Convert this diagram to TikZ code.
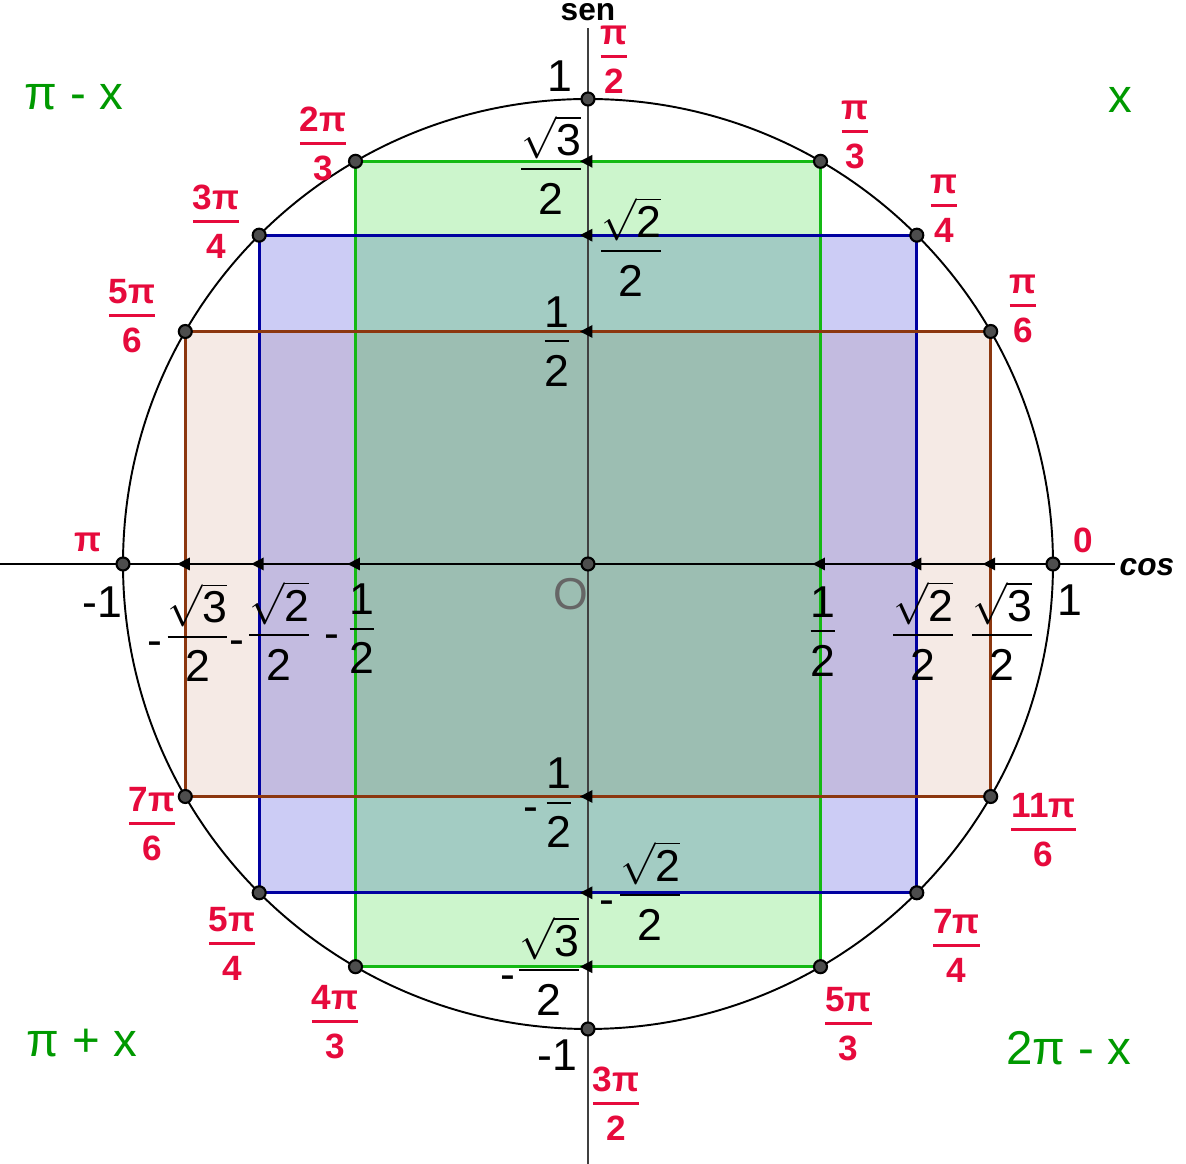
\documentclass[tikz,border=0pt]{standalone}
\usepackage{amsmath}
\usepackage{fontspec}
\setmainfont{Liberation Sans}
\usepackage{tikz}
\definecolor{angred}{RGB}{230,10,60}
\definecolor{quadgreen}{RGB}{0,153,0}
\definecolor{gfill}{RGB}{0,204,0}
\definecolor{gline}{RGB}{20,185,20}
\definecolor{bfill}{RGB}{0,0,204}
\definecolor{bline}{RGB}{0,0,160}
\definecolor{rfill}{RGB}{153,51,0}
\definecolor{rline}{RGB}{140,55,15}
\definecolor{ptgray}{RGB}{77,77,77}
\newcommand\rr{4.65}
\newcommand\sq[1]{$\sqrt{\mbox{#1}}$}
\newcommand\fr[2]{{\renewcommand\arraystretch{0}\setlength\arrayrulewidth{0.55pt}%
  \begin{tabular}[t]{@{}c@{}}#1\\[3.6pt]\hline\rule{0pt}{12.6pt}#2\end{tabular}}}
\newcommand\rfr[2]{{\renewcommand\arraystretch{0}\setlength\arrayrulewidth{0.9pt}%
  \begin{tabular}[t]{@{}c@{}}#1\\[3.1pt]\hline\rule{0pt}{10pt}#2\end{tabular}}}
\tikzset{
  val/.style={inner sep=0pt, font=\fontsize{12.7}{15}\selectfont},
  valfr/.style={val, anchor=base},
  minus/.style={val, anchor=base},
  ang/.style={inner sep=0pt, anchor=base, text=angred, font=\bfseries\fontsize{10}{12}\selectfont},
  quad/.style={inner sep=0pt, anchor=base, text=quadgreen, font=\fontsize{13.5}{16}\selectfont},
  axlabel/.style={inner sep=0pt, font=\bfseries\fontsize{9}{11}\selectfont},
  ptdot/.style={circle, draw=black, fill=ptgray, inner sep=0pt, minimum size=0.13cm, line width=0.6pt},
  lefttip/.pic={\fill (-0.08,0) -- (0.045,0.065) -- (0.045,-0.065) -- cycle;}
}
\begin{document}
\begin{tikzpicture}
\useasboundingbox (-5.88,-6.00) rectangle (5.98,5.64);

% filled rectangles
\fill[rfill, fill opacity=0.1] (30:\rr) rectangle (210:\rr);
\fill[bfill, fill opacity=0.2] (45:\rr) rectangle (225:\rr);
\fill[gfill, fill opacity=0.2] (60:\rr) rectangle (240:\rr);
\draw[gline, line width=0.85pt] (60:\rr) rectangle (240:\rr);
\draw[bline, line width=0.85pt] (45:\rr) rectangle (225:\rr);
\draw[rline, line width=0.85pt] (30:\rr) rectangle (210:\rr);

% circle and axes
\draw[line width=0.55pt] (0,0) circle (\rr);
\coordinate (xl) at (-5.88,0);
\coordinate (xr) at (5.27,0);
\coordinate (yt) at (0,5.36);
\coordinate (yb) at (0,-6.00);
\draw[black!75, line width=0.55pt] (yb) -- (yt);
\draw[line width=0.55pt] (xl) -- (xr);
\node[axlabel] (sen) at (0,5.52) {sen};
\node[axlabel, font=\bfseries\itshape\fontsize{9}{11}\selectfont] (cos) at (5.59,-0.03) {cos};

% arrow tips on the axes
\foreach \a in {30,45,60} {
  \pic at ({\rr*cos(\a)},0) {lefttip};
  \pic at ({-\rr*cos(\a)},0) {lefttip};
  \pic at (0,{\rr*sin(\a)}) {lefttip};
  \pic at (0,{-\rr*sin(\a)}) {lefttip};
}

% points
\node[ptdot] (o) at (0,0) {};
\foreach \a in {0,30,45,60,90,120,135,150,180,210,225,240,270,300,315,330}
  \node[ptdot] (p\a) at (\a:\rr) {};

% values on the sine axis
\node[val] (s1) at (-0.28,4.88) {1};
\node[valfr] (s60) at (-0.37,4.087) {\fr{\sq{3}}{2}};
\node[valfr] (s45) at (0.43,3.267) {\fr{\sq{2}}{2}};
\node[valfr] (s30) at (-0.31,2.367) {\fr{1}{2}};
\node[valfr] (s330) at (-0.29,-2.25) {\fr{1}{2}};
\node[minus] (m330) at (-0.57,-2.58) {-};
\node[valfr] (s315) at (0.62,-3.173) {\fr{\sq{2}}{2}};
\node[minus] (m315) at (0.19,-3.51) {-};
\node[valfr] (s300) at (-0.39,-3.923) {\fr{\sq{3}}{2}};
\node[minus] (m300) at (-0.80,-4.26) {-};
\node[val] (sm1) at (-0.31,-4.91) {-1};

% values on the cosine axis
\node[val] (cm1) at (-4.86,-0.38) {-1};
\node[valfr] (c150) at (-3.905,-0.59) {\fr{\sq{3}}{2}};
\node[minus] (m150) at (-4.33,-0.92) {-};
\node[valfr] (c135) at (-3.09,-0.573) {\fr{\sq{2}}{2}};
\node[minus] (m135) at (-3.51,-0.91) {-};
\node[valfr] (c120) at (-2.26,-0.51) {\fr{1}{2}};
\node[minus] (m120) at (-2.56,-0.85) {-};
\node[valfr] (c60) at (2.35,-0.533) {\fr{1}{2}};
\node[valfr] (c45) at (3.35,-0.573) {\fr{\sq{2}}{2}};
\node[valfr] (c30) at (4.14,-0.573) {\fr{\sq{3}}{2}};
\node[val] (c1) at (4.82,-0.36) {1};
\node[val, text=black!60] (orig) at (-0.17,-0.30) {O};

% angles
\node[ang] (a0) at (4.95,0.11) {0};
\node[ang] (a30) at (4.35,2.709) {\rfr{π}{6}};
\node[ang] (a45) at (3.56,3.709) {\rfr{π}{4}};
\node[ang] (a60) at (2.67,4.449) {\rfr{π}{3}};
\node[ang] (a90) at (0.26,5.199) {\rfr{π}{2}};
\node[ang] (a120) at (-2.65,4.329) {\rfr{2π}{3}};
\node[ang] (a135) at (-3.72,3.549) {\rfr{3π}{4}};
\node[ang] (a150) at (-4.56,2.609) {\rfr{5π}{6}};
\node[ang] (a180) at (-5.00,0.12) {π};
\node[ang] (a210) at (-4.36,-2.471) {\rfr{7π}{6}};
\node[ang] (a225) at (-3.56,-3.671) {\rfr{5π}{4}};
\node[ang] (a240) at (-2.53,-4.451) {\rfr{4π}{3}};
\node[ang] (a270) at (0.28,-5.271) {\rfr{3π}{2}};
\node[ang] (a300) at (2.605,-4.471) {\rfr{5π}{3}};
\node[ang] (a315) at (3.685,-3.691) {\rfr{7π}{4}};
\node[ang] (a330) at (4.555,-2.531) {\rfr{11π}{6}};

% quadrants
\node[quad] (q2) at (-5.14,4.54) {π - x};
\node[quad] (q1) at (5.32,4.51) {x};
\node[quad] (q3) at (-5.06,-4.93) {π + x};
\node[quad] (q4) at (4.81,-5.01) {2π - x};
\end{tikzpicture}
\end{document}
